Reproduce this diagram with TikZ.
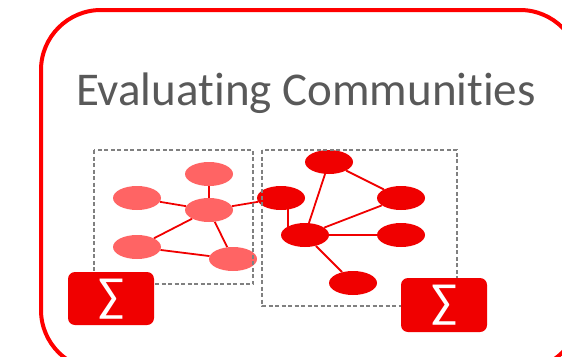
\documentclass[tikz,border=0pt]{standalone}
\usepackage{fontspec}
\setmainfont[Ligatures=CommonOff]{Carlito}
\usetikzlibrary{shapes.geometric,backgrounds}
\definecolor{lightnode}{RGB}{255,100,100}
\definecolor{darknode}{RGB}{240,0,0}
\definecolor{frame}{RGB}{255,0,0}
\definecolor{titlegray}{RGB}{89,89,89}
\definecolor{boxgray}{RGB}{128,128,128}
\begin{document}
\begin{tikzpicture}[x=1pt,y=-1pt,
  lnode/.style={ellipse,fill=lightnode,minimum width=48pt,minimum height=24pt,inner sep=0pt},
  dnode/.style={ellipse,fill=darknode,minimum width=48pt,minimum height=24pt,inner sep=0pt},
  edge/.style={draw=darknode,line width=1.8pt},
  community/.style={draw=boxgray,dash pattern=on 4pt off 2.5pt,line width=1.4pt},
  sumbox/.style={fill=darknode,rounded corners=7pt,draw=none},
  sumtext/.style={text=white,font=\fontsize{48}{52}\selectfont}]
\useasboundingbox (0,0) rectangle (562,356);
\draw[frame,line width=4pt,rounded corners=60pt] (41,10) rectangle (580,370);
\node[titlegray,font=\fontsize{47}{52}\selectfont] (title) at (306,93) {Evaluating Communities};
% left community
\node[lnode] (A) at (137,198) {};
\node[lnode] (B) at (209,174) {};
\node[lnode] (C) at (209,210) {};
\node[lnode] (D) at (137,247) {};
\node[lnode] (E) at (233,259) {};
% right community
\node[dnode] (F) at (281,198) {};
\node[dnode] (G) at (329,162) {};
\node[dnode] (H) at (401,198) {};
\node[dnode] (I) at (305,235) {};
\node[dnode] (J) at (401,235) {};
\node[dnode] (K) at (353,283) {};
\coordinate (Fb) at (288,205);
\coordinate (It) at (288,232);
\begin{scope}[on background layer]
\draw[edge] (A) -- (C);
\draw[edge] (B) -- (C);
\draw[edge] (C) -- (D);
\draw[edge] (C) -- (E);
\draw[edge] (D) -- (E);
\draw[edge] (C) -- (F);
\draw[edge] (G) -- (I);
\draw[edge] (G) -- (H);
\draw[edge] (H) -- (I);
\draw[edge] (I) -- (J);
\draw[edge] (I) -- (K);
\draw[edge] (Fb) -- (It);
\end{scope}
% community boxes
\draw[community] (94,150) rectangle (253,284);
\draw[community] (262,150) rectangle (457,306);
% sum boxes
\filldraw[sumbox] (68,272) rectangle (154,325);
\node[sumtext] (S1) at (111,299) {∑};
\filldraw[sumbox] (401,278) rectangle (487,332);
\node[sumtext] (S2) at (444,305) {∑};
\end{tikzpicture}
\end{document}
